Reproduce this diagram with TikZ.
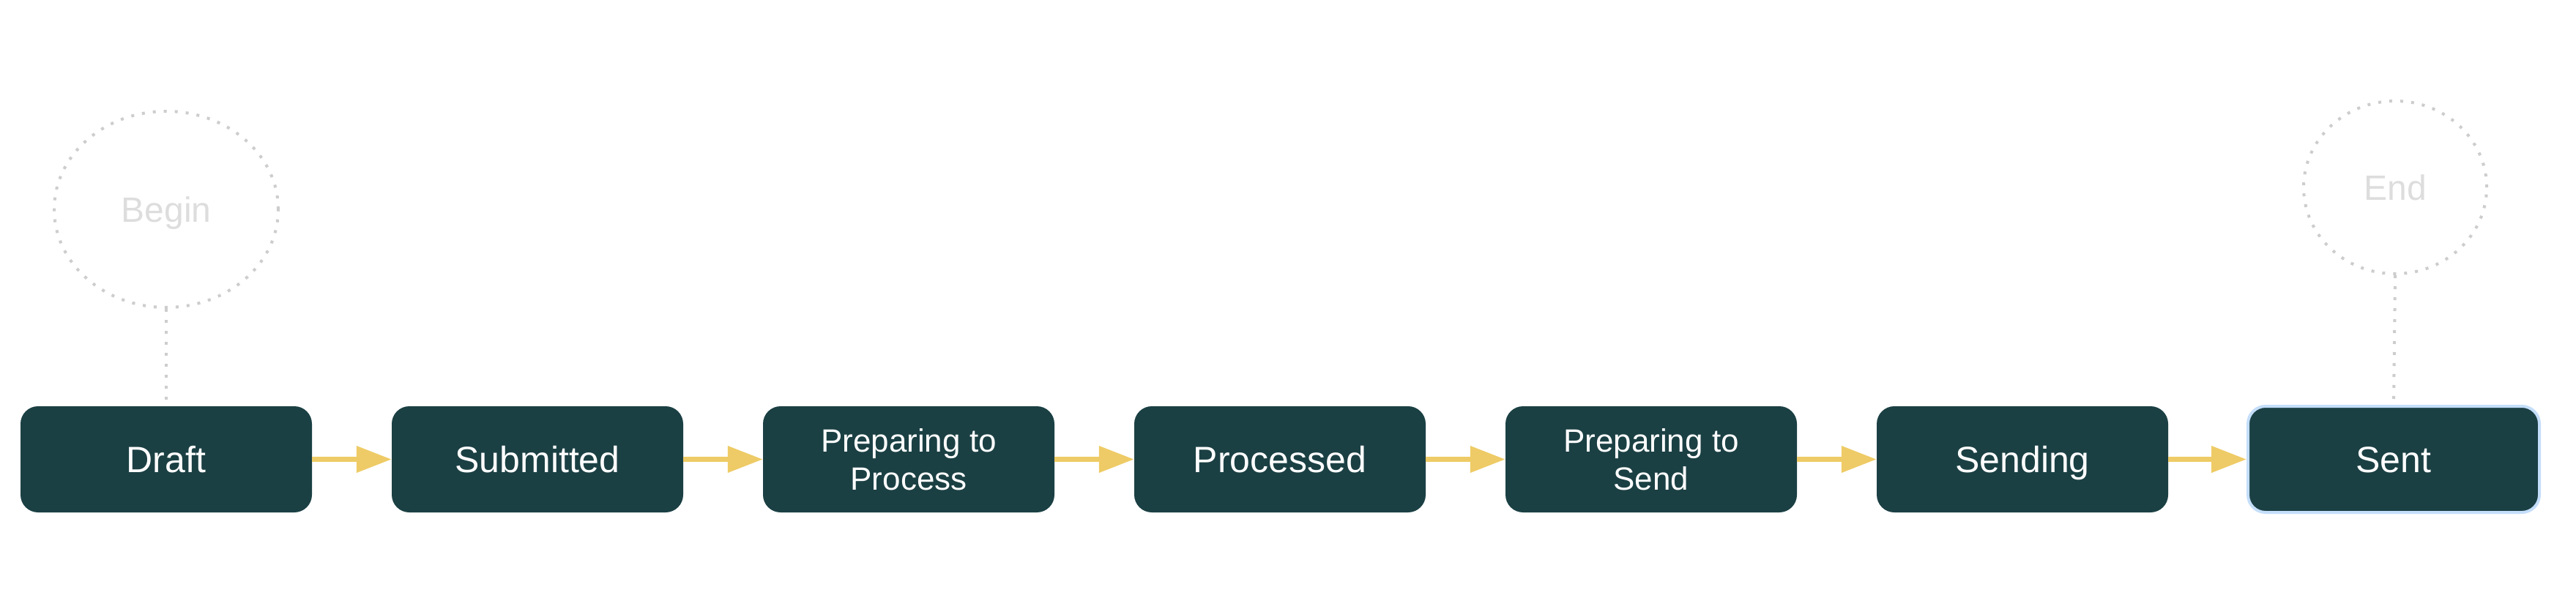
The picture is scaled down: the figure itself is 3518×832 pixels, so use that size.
\documentclass[tikz,border=0pt]{standalone}
\usepackage{fontspec}
\setmainfont{Liberation Sans}
\usetikzlibrary{arrows.meta,shapes.geometric}
\definecolor{boxfill}{RGB}{27,64,68}
\definecolor{flow}{RGB}{238,203,102}
\definecolor{dotgray}{RGB}{205,205,205}
\definecolor{labelgray}{RGB}{221,221,221}
\definecolor{sentedge}{RGB}{196,222,250}
\begin{document}
\begin{tikzpicture}[x=1pt,y=-1pt,
  boxbase/.style={rectangle, rounded corners=24pt, fill=boxfill, minimum width=398pt, minimum height=145pt, inner sep=0pt, text=white, align=center},
  state/.style={boxbase, font=\fontsize{50}{60}\selectfont, text height=46pt, text depth=10pt},
  state2/.style={boxbase, font=\fontsize{44}{52}\selectfont},
  terminal/.style={ellipse, draw=dotgray, line width=4pt, dash pattern=on 4pt off 11pt, text=labelgray, font=\fontsize{48}{58}\selectfont, inner sep=0pt, text height=44pt, text depth=9.6pt},
  flowarrow/.style={draw=flow, line width=7pt, -{Triangle[length=48pt,width=35pt]}},
  link/.style={draw=dotgray, line width=4pt, dash pattern=on 4pt off 11pt}]
\useasboundingbox (0,0) rectangle (3518,832);
\node[state]  (n0) at (227,627.5) {Draft};
\node[state]  (n1) at (734,627.5) {Submitted};
\node[state2] (n2) at (1241,627.5) {Preparing to\\Process};
\node[state]  (n3) at (1748,627.5) {Processed};
\node[state2] (n4) at (2255,627.5) {Preparing to\\Send};
\node[state]  (n5) at (2762,627.5) {Sending};
\node[state, draw=sentedge, line width=4pt] (n6) at (3269,627.5) {Sent};
\node[terminal, minimum width=306pt, minimum height=268pt] (begin) at (227,286) {Begin};
\node[terminal, minimum width=250pt, minimum height=236pt] (end) at (3271,256) {End};
\draw[link] (begin.south) -- (n0.north);
\draw[link] (end.south) -- (n6.north);
\draw[flowarrow] (n0.east) -- (n1.west);
\draw[flowarrow] (n1.east) -- (n2.west);
\draw[flowarrow] (n2.east) -- (n3.west);
\draw[flowarrow] (n3.east) -- (n4.west);
\draw[flowarrow] (n4.east) -- (n5.west);
\draw[flowarrow] (n5.east) -- (n6.west);
\end{tikzpicture}
\end{document}
